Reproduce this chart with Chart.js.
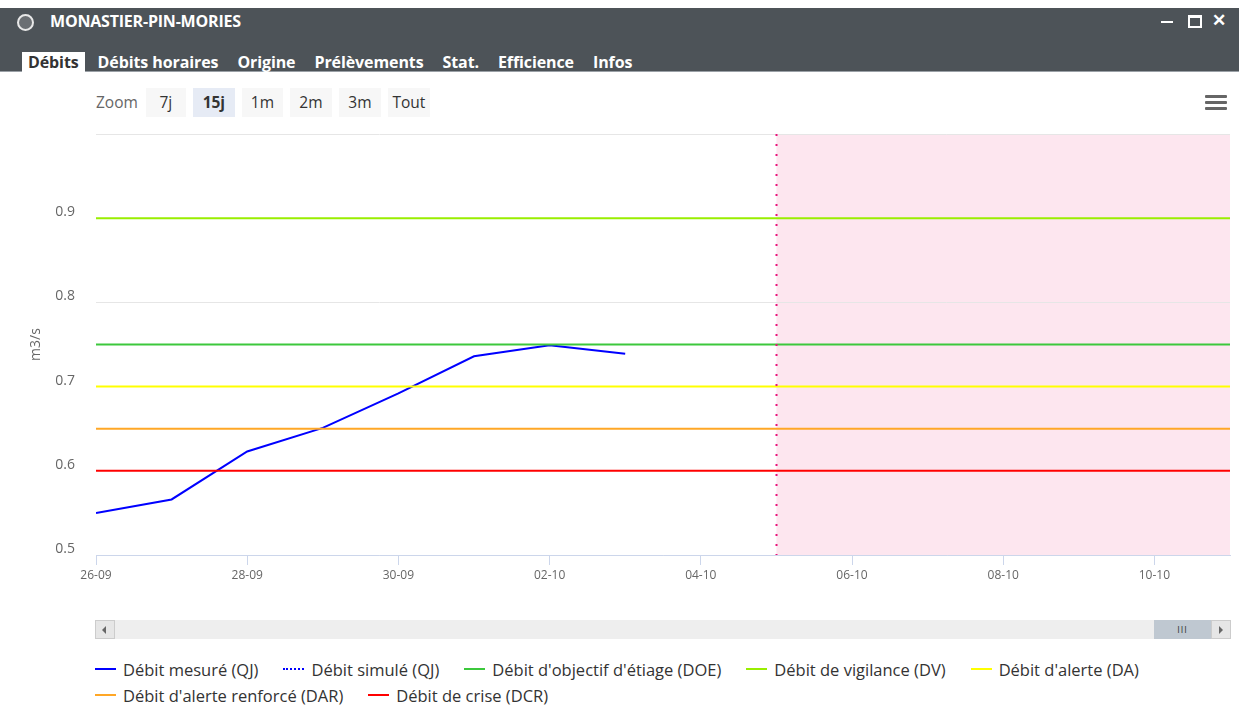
<!DOCTYPE html>
<html>
<head>
<meta charset="utf-8">
<script src="https://cdn.jsdelivr.net/npm/chart.js@4.4.0/dist/chart.umd.min.js"></script>
<style>
  body { margin: 0; width: 1239px; height: 720px; background: #fff; position: relative; overflow: hidden; font-family: "Open Sans", sans-serif; }
  #bar { position: absolute; left: 0; top: 8px; width: 1239px; height: 63px; background: #4d5358; border-bottom: 1px solid #9aa0a6; }
  #icon { position: absolute; left: 17px; top: 6px; width: 13px; height: 13px; border-radius: 50%; background: #6b6f73; border: 2px solid #e8e8e8; }
  #title { position: absolute; left: 50px; top: 2px; color: #fff; font-weight: 700; font-size: 16px; letter-spacing: -0.2px; }
  #min { position: absolute; left: 1161px; top: 13px; width: 12px; height: 2px; background: #fff; }
  #max { position: absolute; left: 1188px; top: 7px; width: 10px; height: 8px; border: 2px solid #fff; border-top-width: 3px; }
  #close { position: absolute; left: 1212px; top: 0px; color: #fff; font-size: 17px; font-weight: 700; }
  #tabs { position: absolute; left: 22px; top: 44px; display: flex; }
  #tabs div { color: #fff; font-weight: 700; font-size: 16px; letter-spacing: -0.1px; padding: 0 6px; height: 20px; line-height: 20px; margin-right: 7px; }
  #tabs div.sel { background: #fff; color: #333; }
  #zoom { position: absolute; left: 96px; top: 88px; display: flex; font-size: 15.5px; color: #333; }
  #zoom span.lbl { color: #666; line-height: 29px; margin-right: 8px; }
  #zoom div { background: #f7f7f7; height: 29px; line-height: 29px; text-align: center; margin-right: 7px; }
  #zoom div.sel { background: #e6ebf5; font-weight: 700; }
  #menu { position: absolute; left: 1205px; top: 95px; width: 22px; }
  #menu i { display: block; height: 3px; background: #666; margin-bottom: 3px; border-radius: 1px; }
  #wrap { position: absolute; left: 0; top: 120px; width: 1239px; height: 480px; }
  #scroll { position: absolute; left: 95px; top: 620px; width: 1134px; height: 19px; background: #eeeeee; }
  #scroll .btn { position: absolute; top: 0; width: 18px; height: 17px; background: #e6e6e6; border: 1px solid #cccccc; }
  #scroll .thumb { position: absolute; left: 1059px; top: 0; width: 57px; height: 19px; background: #bfc8d1; text-align: center; color: #333; font-size: 9px; line-height: 19px; letter-spacing: 1px; }
  .tri { position: absolute; top: 5px; width: 0; height: 0; border-top: 4px solid transparent; border-bottom: 4px solid transparent; }
  #legend { position: absolute; left: 95px; top: 656px; width: 1100px; display: flex; flex-wrap: wrap; font-size: 16.5px; color: #333; }
  #legend .item { display: flex; align-items: center; height: 26px; margin-right: 25px; }
  #legend .mk { width: 21px; height: 0; border-top-width: 2px; margin-right: 7px; }
</style>
</head>
<body>
<div id="bar">
  <div id="icon"></div>
  <div id="title">MONASTIER-PIN-MORIES</div>
  <div id="min"></div><div id="max"></div><div id="close">&#10005;</div>
  <div id="tabs">
    <div class="sel">Débits</div><div>Débits horaires</div><div>Origine</div><div>Prélèvements</div><div>Stat.</div><div>Efficience</div><div>Infos</div>
  </div>
</div>
<div id="zoom">
  <span class="lbl">Zoom</span>
  <div style="width:40px">7j</div><div class="sel" style="width:42px">15j</div><div style="width:41px">1m</div><div style="width:42px">2m</div><div style="width:42px">3m</div><div style="width:42px">Tout</div>
</div>
<div id="menu"><i></i><i></i><i></i></div>
<div id="wrap"><canvas id="chart" width="1239" height="480"></canvas></div>
<div id="scroll">
  <div class="btn" style="left:0"><div class="tri" style="left:6px;border-right:4px solid #666"></div></div>
  <div class="thumb">III</div>
  <div class="btn" style="left:1116px"><div class="tri" style="left:7px;border-left:4px solid #666"></div></div>
</div>
<div id="legend"></div>

<script>
// Days shown on the x axis (index = position on the axis)
var days = ['26-09', '27-09', '28-09', '29-09', '30-09', '01-10', '02-10', '03-10',
            '04-10', '05-10', '06-10', '07-10', '08-10', '09-10', '10-10', '11-10'];

// Measured daily flow (m3/s), one value per day from 26-09
var mesure = [0.550, 0.566, 0.623, 0.651, 0.692, 0.736, 0.749, 0.739];
var simule = []; // no simulated values in this view

// Threshold names, values and colours
var seuilNoms = ["Débit d'objectif d'étiage (DOE)", 'Débit de vigilance (DV)', "Débit d'alerte (DA)",
                 "Débit d'alerte renforcé (DAR)", 'Débit de crise (DCR)'];
var seuilValeurs = [0.75, 0.9, 0.7, 0.65, 0.6];
var seuilCouleurs = ['#3cc83c', '#99ee00', '#ffff00', '#ffa726', '#ff0000'];

var debutPrevision = 9; // 05-10, start of the forecast zone

var yTicks = [0.5, 0.6, 0.7, 0.8, 0.9, 1.0];

// Build datasets
var datasets = [
    {
        label: 'Débit mesuré (QJ)',
        data: mesure.map((v, i) => ({ x: i, y: v })),
        borderColor: '#0000ff',
        borderWidth: 2,
        order: 10
    },
    {
        label: 'Débit simulé (QJ)',
        data: simule.map((v, i) => ({ x: i, y: v })),
        borderColor: '#0000ff',
        borderWidth: 2,
        borderDash: [2, 3],
        order: 9
    }
];
seuilNoms.forEach(function (nom, i) {
    datasets.push({
        label: nom,
        data: [{ x: 0, y: seuilValeurs[i] }, { x: days.length - 1, y: seuilValeurs[i] }],
        borderColor: seuilCouleurs[i],
        borderWidth: 2,
        order: 1
    });
});

// Pink forecast band + dotted line
var zonePrevision = {
    id: 'zonePrevision',
    beforeDraw(chart) {
        var a = chart.chartArea, ctx = chart.ctx;
        var x = chart.scales.x.getPixelForValue(debutPrevision);
        ctx.save();
        ctx.fillStyle = '#fde6ef';
        ctx.fillRect(x, a.top, a.right - x, a.bottom - a.top);
        ctx.restore();
    },
    afterDatasetsDraw(chart) {
        var a = chart.chartArea, ctx = chart.ctx;
        var x = Math.round(chart.scales.x.getPixelForValue(debutPrevision)) + 0.5;
        ctx.save();
        ctx.strokeStyle = '#e8127a';
        ctx.lineWidth = 2;
        ctx.setLineDash([2, 8]);
        ctx.beginPath();
        ctx.moveTo(x, a.top);
        ctx.lineTo(x, a.bottom);
        ctx.stroke();
        ctx.restore();
    }
};

// HTML legend built from the datasets
var htmlLegend = {
    id: 'htmlLegend',
    afterUpdate(chart) {
        var box = document.getElementById('legend');
        box.innerHTML = '';
        chart.data.datasets.forEach(function (ds) {
            var item = document.createElement('div');
            item.className = 'item';
            var mk = document.createElement('div');
            mk.className = 'mk';
            mk.style.borderTopStyle = ds.borderDash ? 'dotted' : 'solid';
            mk.style.borderTopColor = ds.borderColor;
            var txt = document.createElement('span');
            txt.textContent = ds.label;
            item.appendChild(mk);
            item.appendChild(txt);
            box.appendChild(item);
        });
    }
};

new Chart(document.getElementById('chart'), {
    type: 'line',
    data: { datasets: datasets },
    plugins: [zonePrevision, htmlLegend],
    options: {
        responsive: false,
        animation: false,
        devicePixelRatio: 1,
        layout: { padding: { top: 14, right: 9, left: 0, bottom: 0 } },
        elements: { point: { radius: 0 }, line: { tension: 0 } },
        plugins: { legend: { display: false }, tooltip: { enabled: false } },
        scales: {
            x: {
                type: 'linear',
                min: 0,
                max: days.length - 1,
                afterFit: function (s) { s.height = 45; s.paddingLeft = 0; s.paddingRight = 0; },
                ticks: {
                    stepSize: 2,
                    includeBounds: false,
                    padding: 3,
                    color: '#666',
                    font: { family: 'Open Sans', size: 12 },
                    maxRotation: 0,
                    callback: function (v) { return days[v]; }
                },
                grid: { drawOnChartArea: false, drawTicks: true, tickLength: 10, color: '#ccd6eb' },
                border: { color: '#ccd6eb' }
            },
            y: {
                min: yTicks[0],
                max: yTicks[yTicks.length - 1],
                afterFit: function (s) { s.width = 96; s.paddingTop = 0; s.paddingBottom = 0; },
                afterBuildTicks: function (s) { s.ticks = yTicks.map(v => ({ value: v })); },
                ticks: {
                    padding: 21,
                    labelOffset: -6,
                    color: '#666',
                    font: { family: 'Open Sans', size: 14 },
                    callback: function (v) { return v > 0.95 ? '' : v.toFixed(1); }
                },
                grid: { color: '#e6e6e6', drawTicks: false },
                border: { display: false },
                title: {
                    display: true,
                    text: 'm3/s',
                    color: '#666',
                    font: { family: 'Open Sans', size: 14 },
                    padding: { top: 28, bottom: 0 }
                }
            }
        }
    }
});
</script>
</body>
</html>
